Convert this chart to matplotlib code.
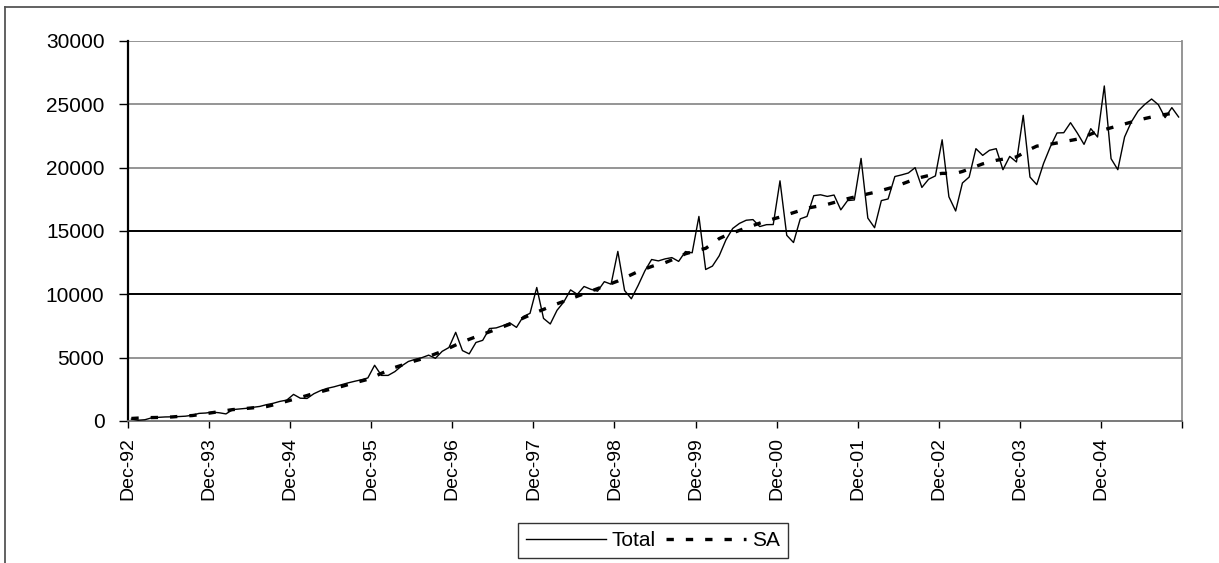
import numpy as np
import matplotlib
matplotlib.use("Agg")
import matplotlib.pyplot as plt
from matplotlib.lines import Line2D

plt.rcParams['font.family'] = ['Liberation Sans', 'DejaVu Sans']

# monthly data, Dec-92 .. Nov-05
total = [150, 60, 100, 250, 290, 320, 330, 350, 380, 450, 600, 630,
         700, 650, 560, 900, 950, 1000, 1080, 1150, 1290, 1400, 1550, 1650,
         2100, 1800, 1780, 2150, 2400, 2580, 2700, 2850, 3000, 3130, 3250, 3400,
         4400, 3600, 3600, 3900, 4350, 4700, 4870, 5000, 5200, 4950, 5500, 5800,
         7000, 5560, 5300, 6200, 6370, 7300, 7350, 7530, 7750, 7390, 8250, 8500,
         10540, 8100, 7660, 8740, 9400, 10350, 10000, 10620, 10400, 10250, 11000, 10800,
         13390, 10300, 9650, 10700, 11850, 12750, 12640, 12800, 12900, 12600, 13380, 13280,
         16150, 11960, 12230, 13040, 14300, 15200, 15600, 15850, 15900, 15350, 15500, 15510,
         18960, 14660, 14090, 15960, 16150, 17790, 17860, 17730, 17840, 16670, 17400, 17450,
         20730, 16020, 15260, 17400, 17530, 19300, 19430, 19580, 20000, 18440, 19090, 19350,
         22200, 17700, 16580, 18790, 19260, 21500, 20970, 21370, 21500, 19840, 20890, 20450,
         24130, 19260, 18660, 20320, 21630, 22740, 22760, 23550, 22740, 21840, 23080, 22420,
         26450, 20710, 19840, 22420, 23610, 24470, 25000, 25420, 24970, 23950, 24740, 24000]

sa = [200, 230, 250, 270, 280, 290, 320, 360, 400, 430, 500, 580,
      660, 740, 820, 900, 940, 990, 1040, 1090, 1140, 1270, 1410, 1560,
      1710, 1860, 2010, 2180, 2310, 2450, 2580, 2710, 2860, 3000, 3150, 3290,
      3520, 3760, 4000, 4230, 4400, 4560, 4750, 4900, 5100, 5300, 5500, 5750,
      6000, 6250, 6450, 6650, 6850, 7040, 7240, 7440, 7640, 7880, 8130, 8370,
      8600, 8810, 9030, 9250, 9450, 9650, 9850, 10050, 10250, 10450, 10650, 10850,
      11050, 11300, 11550, 11800, 12000, 12200, 12380, 12500, 12720, 12950, 13200, 13350,
      13500, 13630, 14000, 14400, 14650, 14850, 15050, 15250, 15430, 15620, 15800, 15950,
      16100, 16280, 16450, 16620, 16800, 16900, 17000, 17100, 17250, 17400, 17550, 17680,
      17800, 17930, 18050, 18200, 18350, 18500, 18700, 18900, 19100, 19250, 19380, 19480,
      19550, 19550, 19550, 19700, 19900, 20100, 20300, 20450, 20580, 20670, 20760, 20850,
      21150, 21450, 21700, 21780, 21850, 21950, 22050, 22150, 22250, 22400, 22650, 22850,
      23000, 23150, 23300, 23450, 23600, 23750, 23880, 24000, 24130, 24200, 24280, 24350]

tick_labels = ['Dec-92', 'Dec-93', 'Dec-94', 'Dec-95', 'Dec-96', 'Dec-97', 'Dec-98',
               'Dec-99', 'Dec-00', 'Dec-01', 'Dec-02', 'Dec-03', 'Dec-04']
yticks = [0, 5000, 10000, 15000, 20000, 25000, 30000]

W, H = 1219, 563
fig = plt.figure(figsize=(W / 100, H / 100), dpi=100)
ax = fig.add_axes([128 / W, 1 - 421 / H, (1182 - 128) / W, (421 - 41) / H])

# points sit in the middle of each month slot
x = np.arange(len(total)) + 0.5

# gridlines: 10000 and 15000 come out darker in the original
for v in yticks[1:]:
    if v in (10000, 15000):
        ax.axhline(v, color='black', lw=1.4, zorder=1)
    else:
        ax.axhline(v, color='#8c8c8c', lw=1.3, zorder=1)

ax.plot(x, total, color='black', lw=1.0, label='Total', zorder=3)
ax.plot(x, sa, color='black', lw=2.4, linestyle=(0, (2.2, 3.6)), label='SA', zorder=4)

ax.set_xlim(0, 156)
ax.set_ylim(0, 30000)
ax.set_xticks(np.arange(0, 157, 12))
ax.set_xticklabels(tick_labels + [''], rotation=90)
ax.set_yticks(yticks)
ax.set_yticklabels([str(v) for v in yticks])
ax.tick_params(axis='both', width=1, direction='out', colors='black')
ax.tick_params(axis='x', labelsize=14, length=5, pad=6.5)
ax.tick_params(axis='y', labelsize=15, length=6.5, pad=10.5)

ax.spines['top'].set_visible(False)
ax.spines['right'].set_color('#8c8c8c')
ax.spines['right'].set_linewidth(1.3)
ax.spines['left'].set_color('black')
ax.spines['left'].set_linewidth(1.6)
ax.spines['bottom'].set_color('#6e6e6e')
ax.spines['bottom'].set_linewidth(1.3)

leg = fig.legend(loc='center', bbox_to_anchor=(653 / W, 1 - 540.5 / H), ncol=2,
                 fontsize=15, frameon=True, fancybox=False, edgecolor='black',
                 handlelength=3.8, columnspacing=0.5, handletextpad=0.3,
                 borderpad=0.4, borderaxespad=0)
leg.get_frame().set_linewidth(1.0)

# outer chart border (left and top visible)
fig.add_artist(Line2D([5 / W, 5 / W], [0, 1 - 7 / H], transform=fig.transFigure,
                      color='#555555', lw=1.3))
fig.add_artist(Line2D([5 / W, 1], [1 - 7 / H, 1 - 7 / H], transform=fig.transFigure,
                      color='#555555', lw=1.3))

fig.savefig('out.png', dpi=100)
